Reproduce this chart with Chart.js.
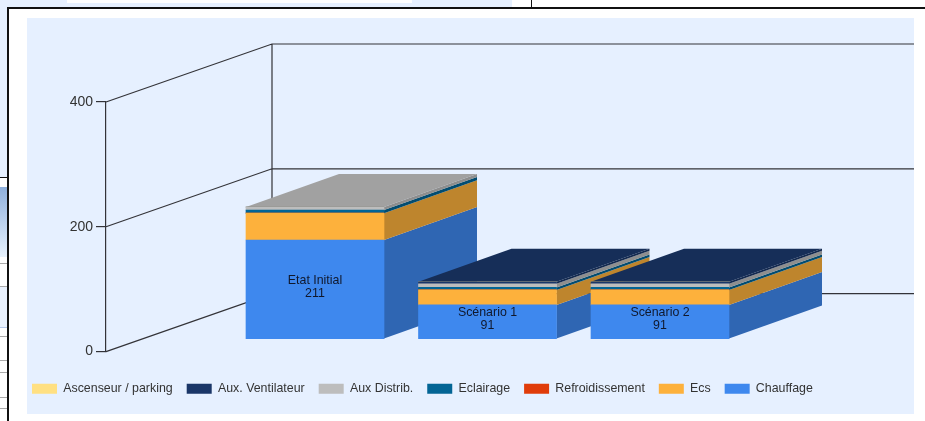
<!DOCTYPE html>
<html>
<head>
<meta charset="utf-8">
<script src="https://cdn.jsdelivr.net/npm/chart.js@4"></script>
<style>
  html, body { margin: 0; padding: 0; width: 925px; height: 421px; overflow: hidden; background: #fff; }
  .bg { position: absolute; }
  #chartWrap { position: absolute; left: 0; top: 0; width: 925px; height: 421px; }
</style>
</head>
<body>
<!-- window behind the chart -->
<div class="bg" style="left:0;top:0;width:512px;height:7px;background:#e6f0ff"></div>
<div class="bg" style="left:67px;top:0;width:345px;height:3px;background:#fff"></div>
<div class="bg" style="left:0;top:0;width:7px;height:177px;background:#e6f0ff"></div>
<div class="bg" style="left:531px;top:0;width:1px;height:7px;background:#111"></div>
<div class="bg" style="left:0;top:177px;width:7px;height:1px;background:#111"></div>
<div class="bg" style="left:0;top:187px;width:7px;height:70px;background:linear-gradient(#8fb0dc,#e8f2fd)"></div>
<div class="bg" style="left:0;top:263px;width:7px;height:1px;background:#aaa"></div>
<div class="bg" style="left:0;top:286px;width:7px;height:41px;background:#e9f1fd"></div>
<div class="bg" style="left:0;top:286px;width:7px;height:1px;background:#aaa"></div>
<div class="bg" style="left:0;top:327px;width:7px;height:1px;background:#b5c9ea"></div>
<div class="bg" style="left:0;top:336px;width:7px;height:1px;background:#aaa"></div>
<div class="bg" style="left:0;top:360px;width:7px;height:1px;background:#aaa"></div>
<div class="bg" style="left:0;top:372px;width:7px;height:1px;background:#aaa"></div>
<div class="bg" style="left:0;top:397px;width:7px;height:1px;background:#aaa"></div>
<div class="bg" style="left:0;top:408px;width:7px;height:1px;background:#aaa"></div>
<!-- white frame -->
<div class="bg" style="left:7px;top:7px;width:918px;height:414px;background:#fff;border-left:2px solid #111;border-top:2px solid #111;box-sizing:border-box"></div>
<!-- chart panel -->
<div class="bg" style="left:27px;top:18px;width:887px;height:396px;background:#e6f0ff"></div>
<div id="chartWrap"><canvas id="energyChart" width="925" height="421"></canvas></div>

<script>
// values (per category, bottom of the stack first)
const categories = ['Etat Initial', 'Scénario 1', 'Scénario 2'];
const totals = [211, 91, 91];
const chauffage = [158, 54, 54];
const ecs = [43, 24, 24];
const refroidissement = [0, 0, 0];
const eclairage = [5, 4, 4];
const auxDistrib = [5, 6, 6];
const auxVentilateur = [0, 3, 3];
const ascenseur = [0, 0, 0];
const yTicks = [0, 200, 400];

const seriesNames = ['Chauffage', 'Ecs', 'Refroidissement', 'Eclairage', 'Aux Distrib.', 'Aux. Ventilateur', 'Ascenseur / parking'];
const seriesValues = [chauffage, ecs, refroidissement, eclairage, auxDistrib, auxVentilateur, ascenseur];
const seriesColors = ['#3e88ee', '#fdb13c', '#e03c0a', '#036595', '#bdbdbd', '#1a3668', '#ffe082'];

const fontName = '"Liberation Sans", Arial, sans-serif';
const lineColor = '#333338';

// 3D look, in pixels
const wallDepthX = 166, wallDepthY = 58;   // floor depth of the walls
const barDepthX = 93, barDepthY = 33;      // depth of a bar
const floorShift = 13;                     // bars stand this far in from the front edge

function shade(hex, f) {
  let n = parseInt(hex.slice(1), 16);
  let r = Math.round((n >> 16) * f), g = Math.round(((n >> 8) & 255) * f), b = Math.round((n & 255) * f);
  return 'rgb(' + r + ',' + g + ',' + b + ')';
}

function quad(ctx, pts, color) {
  ctx.beginPath();
  ctx.moveTo(pts[0][0], pts[0][1]);
  for (let i = 1; i < pts.length; i++) ctx.lineTo(pts[i][0], pts[i][1]);
  ctx.closePath();
  ctx.fillStyle = color;
  ctx.fill();
}

// walls and floor line, sides and tops of the bars: all behind the native bar fronts
const depthPlugin = {
  id: 'depth',
  beforeDatasetsDraw(chart) {
    const ctx = chart.ctx;
    const y = chart.scales.y;
    const left = chart.chartArea.left;
    const right = chart.chartArea.right;
    ctx.save();
    ctx.strokeStyle = lineColor;
    ctx.lineWidth = 1.2;
    // back wall upright and the lines for each tick
    ctx.beginPath();
    ctx.moveTo(left + wallDepthX, y.getPixelForValue(yTicks[yTicks.length - 1]) - wallDepthY);
    ctx.lineTo(left + wallDepthX, y.getPixelForValue(0) - wallDepthY);
    yTicks.forEach(t => {
      let py = y.getPixelForValue(t);
      ctx.moveTo(left, py);
      ctx.lineTo(left + wallDepthX, py - wallDepthY);
      ctx.lineTo(right, py - wallDepthY);
    });
    ctx.stroke();

    categories.forEach((c, i) => {
      let top = null;
      seriesValues.forEach((vals, s) => {
        if (vals[i] <= 0) return;
        let bar = chart.getDatasetMeta(s).data[i];
        let r = bar.x + bar.width / 2;
        quad(ctx, [[r, bar.base], [r + barDepthX, bar.base - barDepthY], [r + barDepthX, bar.y - barDepthY], [r, bar.y]], shade(seriesColors[s], 0.75));
        top = { bar: bar, color: seriesColors[s] };
      });
      let b = top.bar;
      let l = b.x - b.width / 2, r = b.x + b.width / 2;
      quad(ctx, [[l, b.y], [r, b.y], [r + barDepthX, b.y - barDepthY], [l + barDepthX, b.y - barDepthY]], shade(top.color, 0.85));
    });
    ctx.restore();
  },
  afterDatasetsDraw(chart) {
    const ctx = chart.ctx;
    ctx.save();
    ctx.fillStyle = '#10182c';
    ctx.font = '12.4px ' + fontName;
    ctx.textAlign = 'center';
    ctx.textBaseline = 'middle';
    categories.forEach((c, i) => {
      // label sits in the middle of the bottom segment
      let bar = chart.getDatasetMeta(0).data[i];
      let mid = (bar.base + chart.scales.yBar.getPixelForValue(totals[i])) / 2;
      ctx.fillText(c, bar.x, i === 0 ? mid + 8 : bar.y + 8);
      ctx.fillText(String(totals[i]), bar.x, i === 0 ? mid + 21 : bar.y + 21);
    });
    ctx.restore();
  }
};

const pxPerUnit = 250 / 400;

new Chart(document.getElementById('energyChart').getContext('2d'), {
  type: 'bar',
  plugins: [depthPlugin],
  data: {
    datasets: seriesNames.map((name, s) => ({
      label: name,
      data: categories.map((c, i) => ({ x: i, y: seriesValues[s][i] })),
      backgroundColor: seriesColors[s],
      borderWidth: 0,
      barThickness: 138,
      yAxisID: 'yBar'
    }))
  },
  options: {
    responsive: false,
    animation: false,
    layout: { padding: { left: 18, right: 11, top: 102, bottom: 16 } },
    scales: {
      x: {
        type: 'linear',
        stacked: true,
        min: -1.2116,
        max: 3.4725,
        offset: false,
        grid: { display: false },
        border: { display: false },
        ticks: { display: false },
        afterFit(scale) { scale.height = 17; }
      },
      y: {
        min: 0,
        max: 400,
        position: 'left',
        afterFit(scale) { scale.width = 88; },
        afterBuildTicks(scale) { scale.ticks = yTicks.map(v => ({ value: v })); },
        grid: { drawOnChartArea: false, color: lineColor, tickLength: 10, lineWidth: 1.2 },
        border: { color: lineColor, width: 1.2 },
        ticks: { color: '#333', font: { family: fontName, size: 14 }, padding: 3 }
      },
      // same pixels as y, but with its zero on the bar floor
      yBar: {
        display: false,
        stacked: true,
        min: -floorShift / pxPerUnit,
        max: 400 - floorShift / pxPerUnit
      }
    },
    plugins: {
      tooltip: { enabled: false },
      legend: {
        position: 'bottom',
        align: 'start',
        reverse: true,
        labels: {
          boxWidth: 25,
          boxHeight: 10,
          padding: 14,
          color: '#333',
          font: { family: fontName, size: 12.4 }
        }
      }
    }
  }
});
</script>
</body>
</html>
